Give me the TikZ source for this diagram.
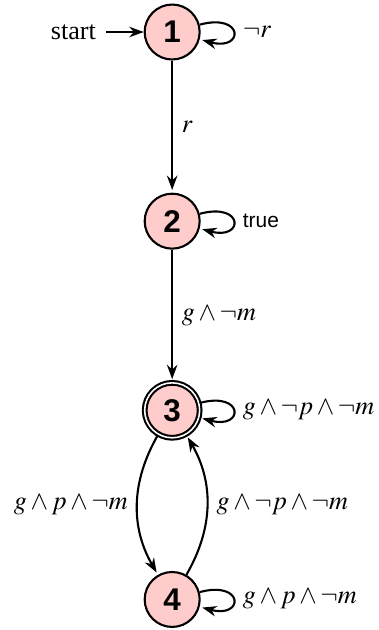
\documentclass[tikz,border=0pt]{standalone}
\usepackage{mathptmx}
\usepackage[no-math]{fontspec}
\setmainfont{Liberation Serif}
\setsansfont{Liberation Sans}
\usepackage{tikz}
\usetikzlibrary{arrows.meta,positioning}
\definecolor{RosaEstado}{RGB}{255,204,204}

\begin{document}
\begin{tikzpicture}[>={Stealth[length=5.5pt,width=4pt,inset=1.8pt]},thick,
  estado/.style={circle,draw,fill=RosaEstado,minimum size=21pt,inner sep=1pt,
    font=\large\bfseries\sffamily},
  final/.style={estado,double,double distance=0.6pt}]
  \useasboundingbox (-2.312,0.430) rectangle (2.777,-8.030);
  \node[estado] (q1) at (0,0) {1};
  \node[estado] (q2) at (0,-2.54) {2};
  \node[final] (q3) at (0,-5.08) {3};
  \node[estado] (q4) at (0,-7.62) {4};
  \node[left=5.1mm of q1] (start) {start};
  \draw[->] (start) -- (q1);
  \path[->,shorten >=1pt]
    (q1) edge[loop right] node {$\neg r$} ()
         edge node[right] {$r$} (q2)
    (q2) edge[loop right] node[font=\footnotesize\sffamily] {true} ()
         edge node[right] {$g \land \neg m$} (q3)
    (q3) edge[loop right] node {$g \land \neg p \land \neg m$} ()
         edge[bend right=30] node[left] {$g \land p \land \neg m$} (q4)
    (q4) edge[loop right] node {$g \land p \land \neg m$} ()
         edge[bend right=30] node[right] {$g \land \neg p \land \neg m$} (q3);
\end{tikzpicture}
\end{document}
